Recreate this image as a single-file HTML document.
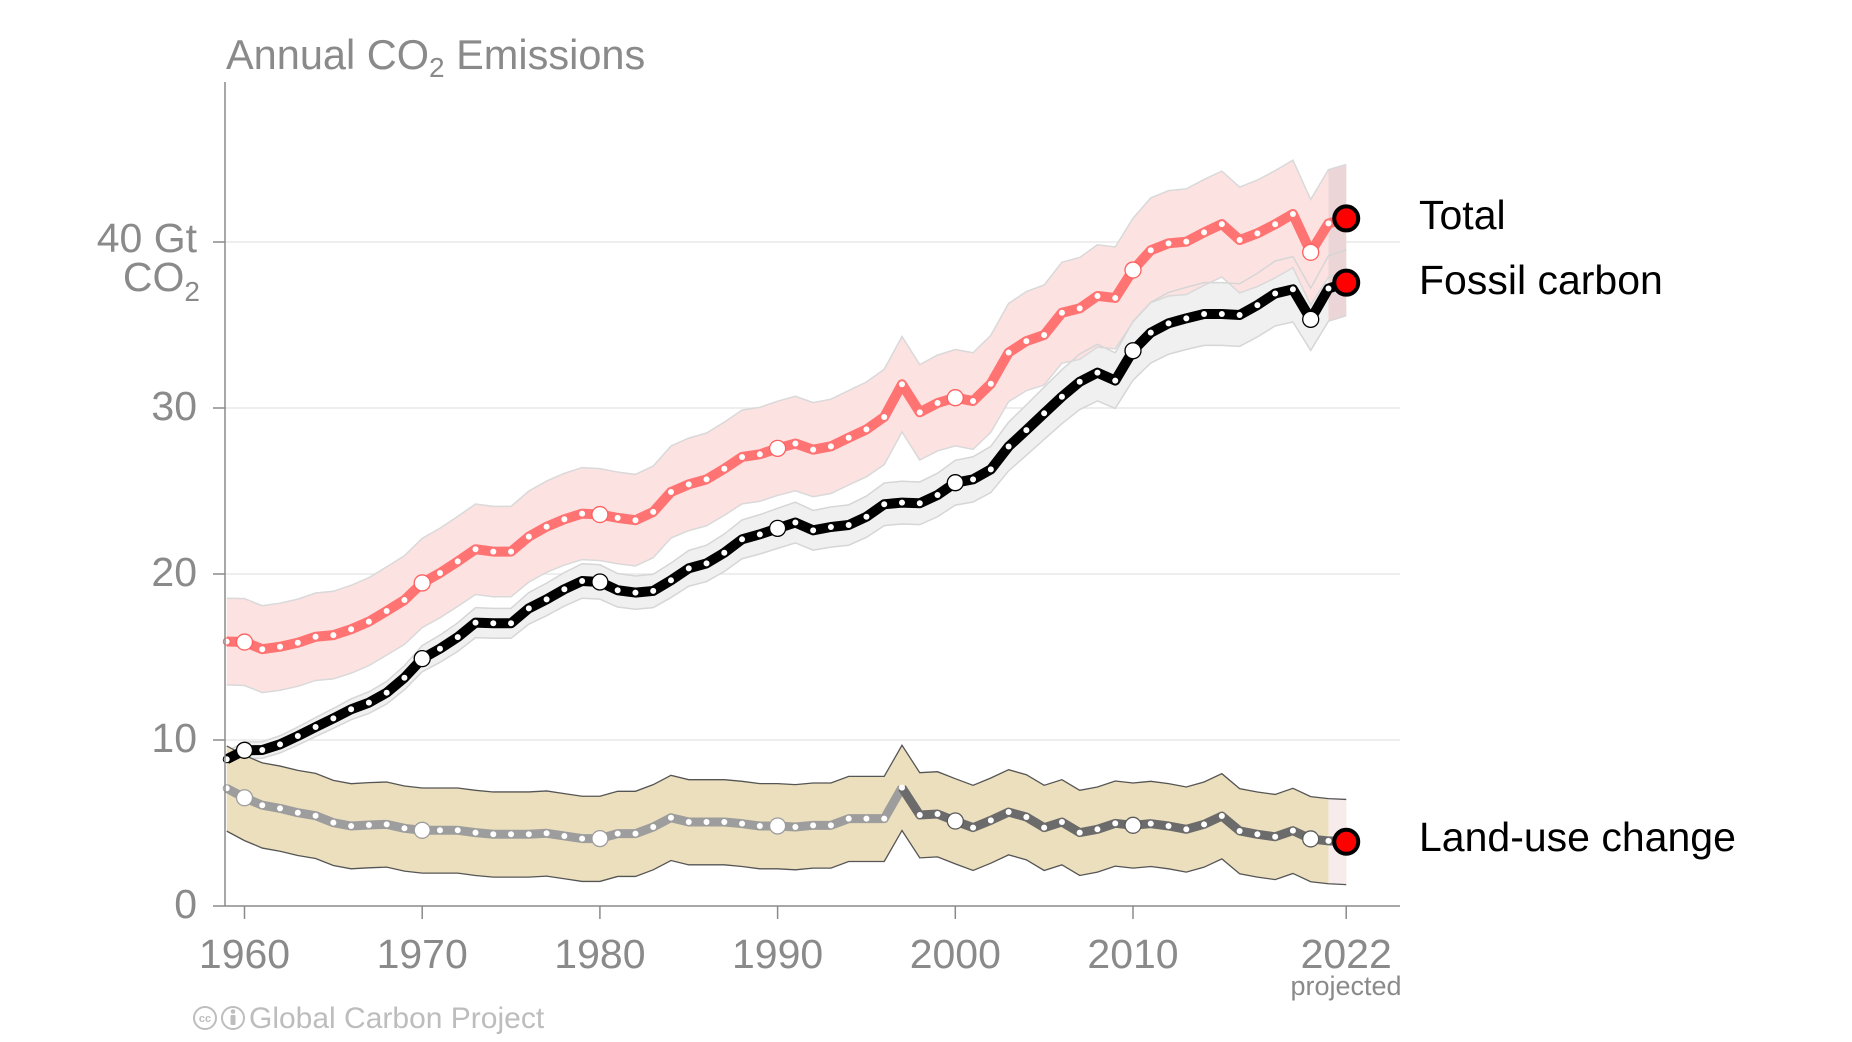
<!DOCTYPE html>
<html>
<head>
<meta charset="utf-8">
<style>
  html,body{margin:0;padding:0;background:#fff;}
  svg{display:block;}
  text{font-family:"Liberation Sans", Arial, Helvetica, sans-serif;}
</style>
</head>
<body>
<svg id="chart" xmlns="http://www.w3.org/2000/svg" width="1852" height="1042" viewBox="0 0 1852 1042">
  <rect x="0" y="0" width="1852" height="1042" fill="#ffffff"/>
  <!-- gridlines -->
  <g stroke="#e8e8e8" stroke-width="1.5">
    <line x1="225" y1="740" x2="1400" y2="740"/>
    <line x1="225" y1="574" x2="1400" y2="574"/>
    <line x1="225" y1="408" x2="1400" y2="408"/>
    <line x1="225" y1="242" x2="1400" y2="242"/>
  </g>
  <g id="bands"></g>
  <g id="lines"></g>
  <!-- axes -->
  <g stroke="#8a8a8a" stroke-width="1.5">
    <line x1="225" y1="82" x2="225" y2="906.5"/>
    <line x1="225" y1="906" x2="1400" y2="906"/>
    <line x1="213" y1="906" x2="225" y2="906"/>
    <line x1="213" y1="740" x2="225" y2="740"/>
    <line x1="213" y1="574" x2="225" y2="574"/>
    <line x1="213" y1="408" x2="225" y2="408"/>
    <line x1="213" y1="242" x2="225" y2="242"/>
    <line x1="244.5" y1="906" x2="244.5" y2="919"/>
    <line x1="422.2" y1="906" x2="422.2" y2="919"/>
    <line x1="599.9" y1="906" x2="599.9" y2="919"/>
    <line x1="777.6" y1="906" x2="777.6" y2="919"/>
    <line x1="955.3" y1="906" x2="955.3" y2="919"/>
    <line x1="1133" y1="906" x2="1133" y2="919"/>
    <line x1="1346.2" y1="906" x2="1346.2" y2="919"/>
  </g>
  <!-- title -->
  <text x="226" y="69" font-size="41.5" fill="#8a8a8a">Annual CO<tspan font-size="28" dy="8">2</tspan><tspan dy="-8"> Emissions</tspan></text>
  <!-- y labels -->
  <g font-size="41" fill="#8a8a8a" text-anchor="end">
    <text x="197" y="918">0</text>
    <text x="197" y="752">10</text>
    <text x="197" y="586">20</text>
    <text x="197" y="420">30</text>
    <text x="197" y="252">40 Gt</text>
    <text x="200" y="291">CO<tspan font-size="28" dy="10">2</tspan></text>
  </g>
  <!-- x labels -->
  <g font-size="41" fill="#8a8a8a" text-anchor="middle">
    <text x="244.5" y="968">1960</text>
    <text x="422.2" y="968">1970</text>
    <text x="599.9" y="968">1980</text>
    <text x="777.6" y="968">1990</text>
    <text x="955.3" y="968">2000</text>
    <text x="1133" y="968">2010</text>
    <text x="1346.2" y="968">2022</text>
  </g>
  <text x="1346" y="995" font-size="27" fill="#8a8a8a" text-anchor="middle">projected</text>
  <!-- right labels -->
  <g font-size="41" fill="#000">
    <text x="1419" y="229">Total</text>
    <text x="1419" y="294">Fossil carbon</text>
    <text x="1419" y="851">Land-use change</text>
  </g>
  <!-- footer -->
  <g fill="none" stroke="#bdbdbd" stroke-width="2">
    <circle cx="205" cy="1018" r="11"/>
    <circle cx="233" cy="1018" r="11"/>
  </g>
  <text x="205" y="1022" font-size="11" font-weight="bold" fill="#bdbdbd" text-anchor="middle">cc</text>
  <circle cx="233" cy="1011.5" r="2.3" fill="#bdbdbd"/>
  <rect x="230.5" y="1015" width="5" height="10" rx="1" fill="#bdbdbd"/>
  <text x="249" y="1028" font-size="30" fill="#bdbdbd">Global Carbon Project</text>
</svg>
<script>
(function(){
  var F=[8.84,9.38,9.40,9.74,10.24,10.78,11.30,11.85,12.25,12.85,
         13.75,14.90,15.50,16.20,17.07,17.03,17.03,17.93,18.47,19.08,
         19.58,19.52,19.02,18.88,18.98,19.62,20.34,20.64,21.28,22.09,
         22.39,22.75,23.10,22.63,22.83,22.95,23.45,24.20,24.30,24.26,
         24.76,25.50,25.70,26.30,27.68,28.67,29.68,30.68,31.58,32.13,
         31.65,33.45,34.54,35.10,35.40,35.66,35.66,35.60,36.20,36.90,
         37.15,35.34,37.20,37.55];
  var L=[7.09,6.52,6.07,5.88,5.62,5.44,5.02,4.82,4.88,4.92,
         4.68,4.56,4.56,4.56,4.42,4.32,4.32,4.32,4.38,4.22,
         4.06,4.06,4.36,4.36,4.76,5.32,5.06,5.06,5.06,4.96,
         4.82,4.82,4.76,4.86,4.86,5.26,5.26,5.26,7.13,5.48,
         5.54,5.12,4.72,5.16,5.66,5.36,4.72,5.06,4.42,4.62,
         4.98,4.86,4.96,4.82,4.62,4.92,5.42,4.52,4.32,4.17,
         4.54,4.04,3.92,3.87];
  var n=F.length;
  function X(i){return 244.5+(i-1)*17.77;}
  function Y(v){return 906-v*16.6;}
  var T=[],tu=[],tl=[],fu=[],fl=[],lu=[],ll=[];
  for(var i=0;i<n;i++){
    T[i]=F[i]+L[i];
    var fh=0.053*F[i];
    var th=Math.sqrt(2.57*2.57+fh*fh);
    tu[i]=T[i]+th; tl[i]=T[i]-th;
    fu[i]=F[i]+fh; fl[i]=F[i]-fh;
    lu[i]=L[i]+2.55; ll[i]=L[i]-2.58;
  }
  function pts(arr,a,b){var s=[];for(var i=a;i<=b;i++){s.push(X(i).toFixed(2)+","+Y(arr[i]).toFixed(2));}return s;}
  function poly(up,lo,a,b){var s=pts(up,a,b);var r=pts(lo,a,b).reverse();return s.concat(r).join(" ");}
  var h="";
  h+='<polygon points="'+poly(fu,fl,0,n-1)+'" fill="#f0f0f0" stroke="none"/>';
  h+='<polygon points="'+poly(tu,tl,0,n-1)+'" fill="#fde2e2" stroke="none"/>';
  h+='<polygon points="'+poly(tu,fl,n-2,n-1)+'" fill="#ebd5d6" stroke="none"/>';
  h+='<polyline points="'+pts(fu,0,n-1).join(" ")+'" fill="none" stroke="#d6d6d6" stroke-width="1.5"/>';
  h+='<polyline points="'+pts(fl,0,n-1).join(" ")+'" fill="none" stroke="#d6d6d6" stroke-width="1.5"/>';
  h+='<polyline points="'+pts(tu,0,n-1).join(" ")+'" fill="none" stroke="#d9d9d9" stroke-width="1.5"/>';
  h+='<polyline points="'+pts(tl,0,n-1).join(" ")+'" fill="none" stroke="#d9d9d9" stroke-width="1.5"/>';
  h+='<polygon points="'+poly(lu,ll,0,n-1)+'" fill="#ecdfbd" stroke="none"/>';
  h+='<polygon points="'+poly(lu,ll,n-2,n-1)+'" fill="#f7ebeb" stroke="none"/>';
  h+='<polyline points="'+pts(lu,0,n-1).join(" ")+'" fill="none" stroke="#555" stroke-width="1.3"/>';
  h+='<polyline points="'+pts(ll,0,n-1).join(" ")+'" fill="none" stroke="#555" stroke-width="1.3"/>';
  document.getElementById("bands").innerHTML=h;

  var g="";
  function line(arr,a,b,col,w){return '<polyline points="'+pts(arr,a,b).join(" ")+'" fill="none" stroke="'+col+'" stroke-width="'+w+'" stroke-linejoin="round" stroke-linecap="butt"/>';}
  g+=line(L,0,38,"#9d9d9d",9);
  g+=line(L,38,n-1,"#6b6b6b",9);
  g+=line(F,0,n-1,"#000000",10);
  g+=line(T,0,n-1,"#ff7373",10);
  function dots(arr,col,col2){
    var s="";
    for(var i=0;i<n;i++){
      var yr=1959+i, x=X(i).toFixed(2), y=Y(arr[i]).toFixed(2);
      var c=(col2&&yr>=1997)?col2:col;
      if(yr===2022){
        s+='<circle cx="'+x+'" cy="'+y+'" r="12" fill="#ff0000" stroke="#000" stroke-width="4"/>';
      } else if(yr%10===0){
        s+='<circle cx="'+x+'" cy="'+y+'" r="8" fill="#fff" stroke="'+c+'" stroke-width="1.3"/>';
      } else if(yr===1959){
        s+='<circle cx="'+x+'" cy="'+y+'" r="3.5" fill="#fff" stroke="'+c+'" stroke-width="1"/>';
      } else {
        s+='<circle cx="'+x+'" cy="'+y+'" r="3" fill="#fff"/>';
      }
    }
    return s;
  }
  g+=dots(L,"#9d9d9d","#5a5a5a");
  g+=dots(F,"#000");
  g+=dots(T,"#ff6060");
  document.getElementById("lines").innerHTML=g;
})();
</script>
</body>
</html>
